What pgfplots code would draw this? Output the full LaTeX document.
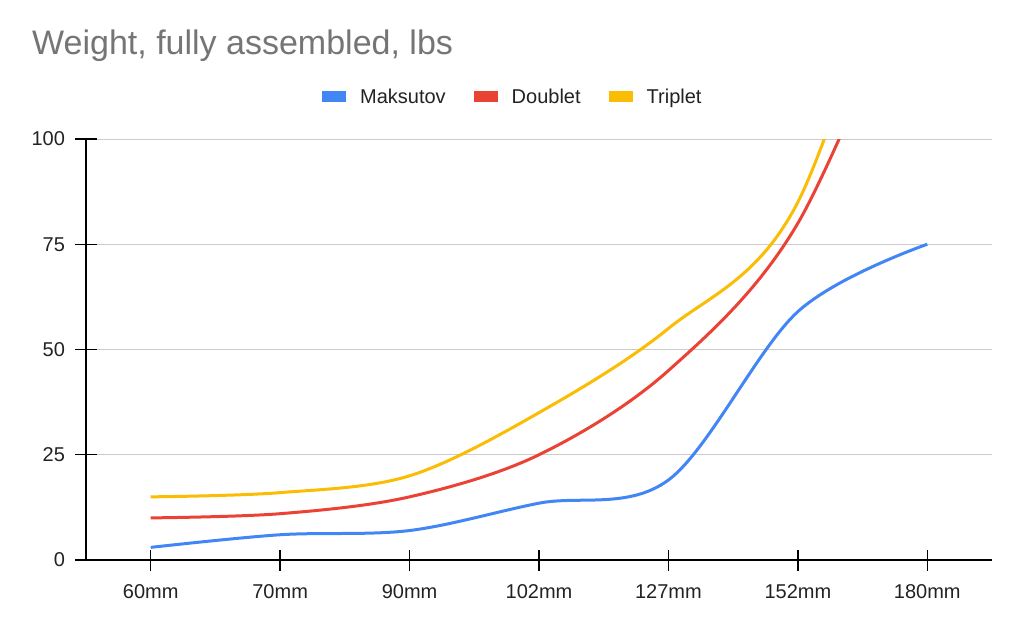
\documentclass[border=0pt]{standalone}
\usepackage{pgfplots}
\pgfplotsset{compat=1.18}
\usepackage{fontspec}
\setmainfont{Liberation Sans}
\definecolor{gblue}{HTML}{4285F4}
\definecolor{gred}{HTML}{EA4335}
\definecolor{gyellow}{HTML}{FBBC04}
\definecolor{titlegray}{HTML}{757575}
\definecolor{labelgray}{HTML}{222222}
\definecolor{gridgray}{HTML}{CCCCCC}
\begin{document}
\begin{tikzpicture}[x=1pt,y=1pt]
\useasboundingbox (0,0) rectangle (1024,633);
\node[anchor=base west, inner sep=0pt, text=titlegray, font=\fontsize{34}{40}\selectfont] at (32,578) {Weight, fully assembled, lbs};
\begin{axis}[
  at={(86pt,73pt)}, anchor=south west,
  width=906pt, height=421pt, scale only axis,
  xmin=-0.5, xmax=6.5, ymin=0, ymax=100,
  xtick={0,1,2,3,4,5,6},
  xticklabels={60mm,70mm,90mm,102mm,127mm,152mm,180mm},
  ytick={0,25,50,75,100},
  axis x line*=bottom, axis y line*=left,
  axis line style={black, line width=1.3pt, -},
  ymajorgrids, grid style={gridgray, line width=1pt},
  major tick length=21pt, tick align=center,
  tick style={black, line width=1.3pt},
  tick label style={font=\fontsize{20}{24}\selectfont, text=labelgray},
  yticklabel style={xshift=-7pt},
  xticklabel style={yshift=-10pt},
  /pgf/number format/assume math mode=true,
  legend columns=-1,
  legend style={at={(0.470,1.0998)}, anchor=center, draw=none, fill=none,
    inner sep=0pt, font=\fontsize{20}{24}\selectfont, text=labelgray,
    nodes={inner sep=0pt},
    /tikz/every odd column/.append style={column sep=14pt},
    /tikz/every even column/.append style={column sep=28pt}},
  legend image code/.code={\fill[#1] (0pt,-4pt) rectangle (21pt,4pt);},
  every axis plot/.append style={line width=3pt, smooth, tension=0.55, no markers},
]
\addplot[gblue] coordinates {(0,3) (1,6) (2,7) (3,13.5) (4,19) (5,59) (6,75)};
\addlegendentry{Maksutov}
\addplot[gred] coordinates {(0,10) (1,11) (2,15) (3,25) (4,45) (5,80) (6,150)};
\addlegendentry{Doublet}
\addplot[gyellow] coordinates {(0,15) (1,16) (2,20) (3,35) (4,55) (5,85) (6,175)};
\addlegendentry{Triplet}
\end{axis}
\end{tikzpicture}
\end{document}
